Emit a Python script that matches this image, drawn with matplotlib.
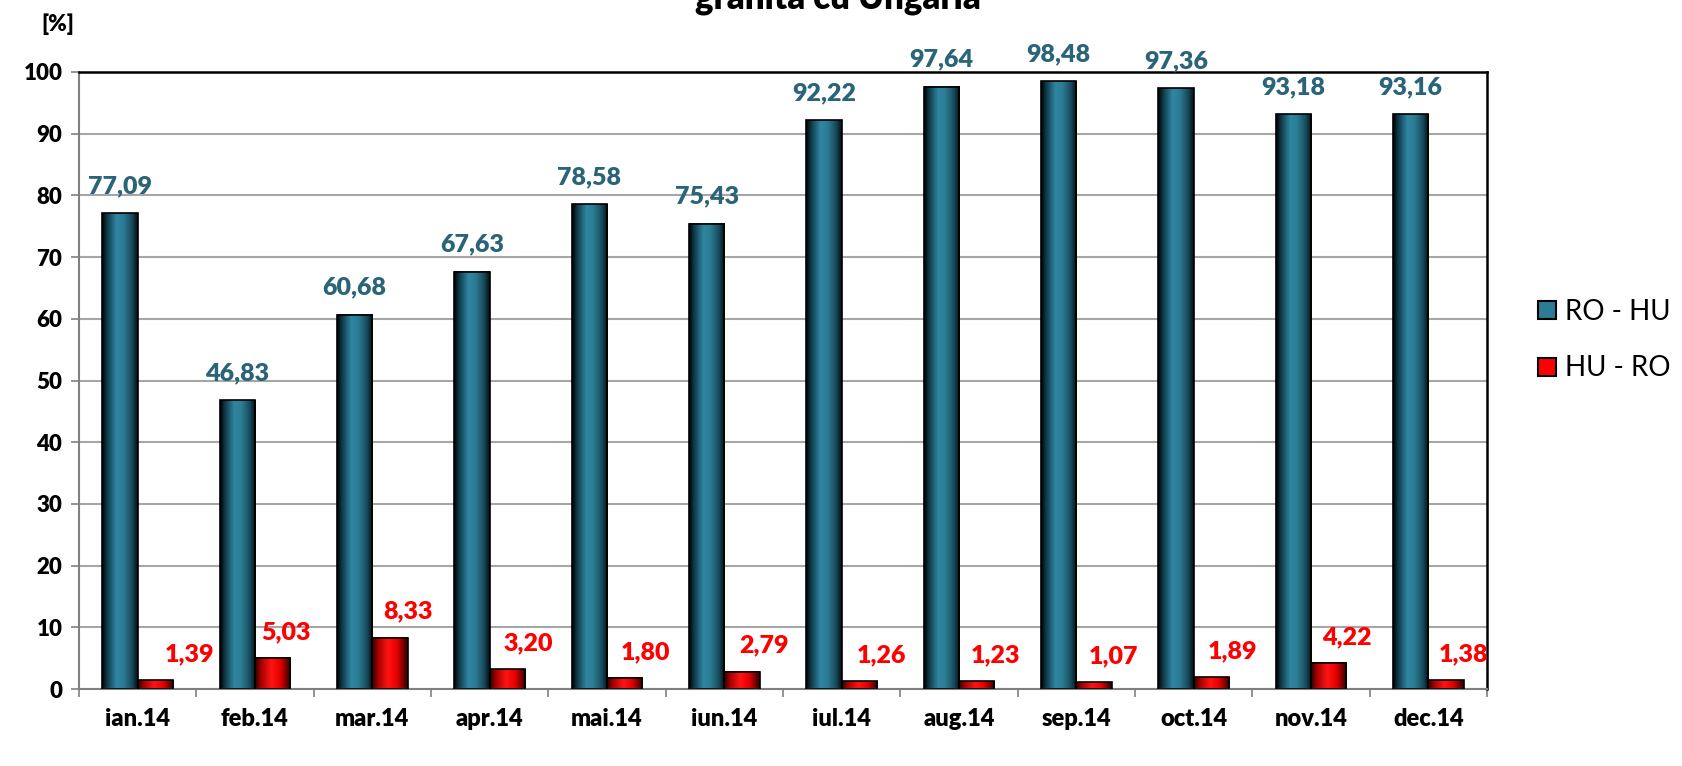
import numpy as np
import matplotlib
matplotlib.use("Agg")
import matplotlib.pyplot as plt
from matplotlib.colors import LinearSegmentedColormap
from matplotlib.lines import Line2D

# ===== date =====
luni = ["ian.14", "feb.14", "mar.14", "apr.14", "mai.14", "iun.14",
        "iul.14", "aug.14", "sep.14", "oct.14", "nov.14", "dec.14"]
ro_hu = [77.09, 46.83, 60.68, 67.63, 78.58, 75.43,
         92.22, 97.64, 98.48, 97.36, 93.18, 93.16]
hu_ro = [1.39, 5.03, 8.33, 3.20, 1.80, 2.79,
         1.26, 1.23, 1.07, 1.89, 4.22, 1.38]
y_ticks = [0, 10, 20, 30, 40, 50, 60, 70, 80, 90, 100]

# deplasarea orizontala a etichetelor rosii (pixeli), ca in original
red_label_dx = [34, 13, 18, 21, 21, 22, 22, 19, 20, 21, 18, 18]

plt.rcParams["font.family"] = ["Lato", "DejaVu Sans"]
BOLD = "heavy"

BLUE_MID = "#2d7c95"
RED_MID = "#ff0000"
blue_cmap = LinearSegmentedColormap.from_list("blue", [
    (0.0, "#000000"), (0.12, "#0e3442"), (0.4, "#2f86a2"),
    (0.6, "#2b7c94"), (0.85, "#17485a"), (1.0, "#030e12")])
red_cmap = LinearSegmentedColormap.from_list("red", [
    (0.0, "#300000"), (0.15, "#a00000"), (0.45, "#ff1414"),
    (0.7, "#e60000"), (0.88, "#7a0000"), (1.0, "#2a0000")])

fig = plt.figure(figsize=(16.82, 7.66), dpi=100)
ax = fig.add_axes([79 / 1682, 77 / 766, 1408 / 1682, 617 / 766])

x = np.arange(len(luni))
w = 0.3
bars_b = ax.bar(x - w / 2, ro_hu, w, facecolor="none", edgecolor="black",
                linewidth=1.2, zorder=3)
bars_r = ax.bar(x + w / 2, hu_ro, w, facecolor="none", edgecolor="black",
                linewidth=1.2, zorder=3)

grad = np.linspace(0, 1, 64).reshape(1, -1)
for bars, cmap in ((bars_b, blue_cmap), (bars_r, red_cmap)):
    for b in bars:
        x0 = b.get_x()
        ax.imshow(grad, cmap=cmap, aspect="auto", interpolation="bicubic",
                  extent=[x0, x0 + b.get_width(), 0, b.get_height()], zorder=2)

# etichete valori
for i, v in enumerate(ro_hu):
    ax.annotate(f"{v:.2f}".replace(".", ","), (x[i] - w / 2, v),
                xytext=(0, 27), textcoords="offset pixels", ha="center",
                va="center", fontsize=18, fontweight=BOLD, color="#2a6478")
for i, v in enumerate(hu_ro):
    ax.annotate(f"{v:.2f}".replace(".", ","), (x[i] + w / 2, v),
                xytext=(red_label_dx[i], 26), textcoords="offset pixels",
                ha="center", va="center", fontsize=18, fontweight=BOLD,
                color="#ff0000")

ax.set_xlim(-0.5, len(luni) - 0.5)
ax.set_ylim(0, 100)
ax.set_yticks(y_ticks)
ax.set_xticks(x)
ax.set_xticklabels(luni)
ax.set_xticks(np.arange(len(luni) + 1) - 0.5, minor=True)
ax.tick_params(axis="x", which="major", length=0, pad=14, labelsize=17)
ax.tick_params(axis="x", which="minor", length=6, color="#808080", width=1.2)
ax.tick_params(axis="y", length=6, color="#808080", width=1.2, labelsize=16, pad=6)
for lab in ax.get_xticklabels() + ax.get_yticklabels():
    lab.set_fontweight(BOLD)

ax.yaxis.grid(True, color="#a6a6a6", linewidth=1.5, zorder=0)
ax.set_axisbelow(True)
ax.spines["top"].set_color("black")
ax.spines["top"].set_linewidth(1.8)
ax.spines["right"].set_color("black")
ax.spines["right"].set_linewidth(1.8)
ax.spines["left"].set_color("#808080")
ax.spines["left"].set_linewidth(1.5)
ax.spines["bottom"].set_color("#808080")
ax.spines["bottom"].set_linewidth(1.5)

fig.text(58 / 1682, 1 - 24 / 766, "[%]", ha="center", va="center",
         fontsize=16, fontweight=BOLD)
fig.text(838 / 1682, 1 + 2 / 766, "granita cu Ungaria", ha="center",
         va="center", fontsize=25, fontweight=BOLD)

handles = [
    Line2D([], [], marker="s", linestyle="none", markersize=13,
           markerfacecolor=BLUE_MID, markeredgecolor="black", markeredgewidth=1.5),
    Line2D([], [], marker="s", linestyle="none", markersize=13,
           markerfacecolor=RED_MID, markeredgecolor="black", markeredgewidth=1.5),
]
fig.legend(handles, ["RO - HU", "HU - RO"], loc="center left",
           bbox_to_anchor=(1512 / 1682, 1 - 340 / 766), frameon=False,
           fontsize=20, handlelength=0.7, handletextpad=0.3, labelspacing=1.1)

fig.savefig("out.png", dpi=100)
